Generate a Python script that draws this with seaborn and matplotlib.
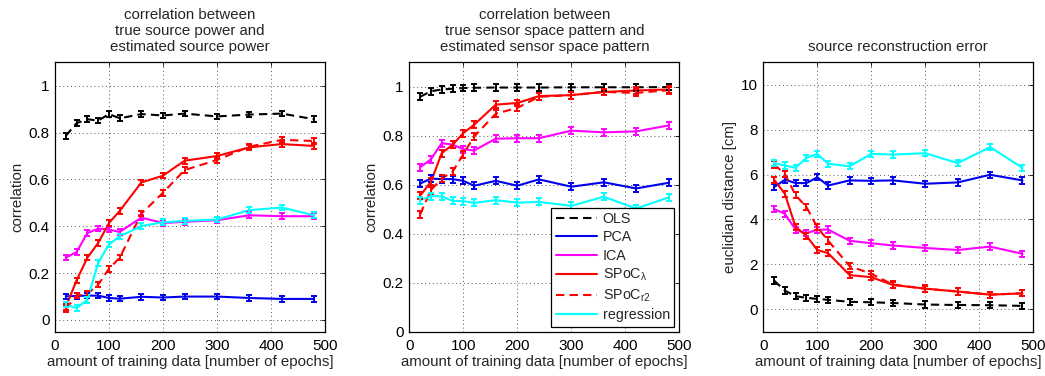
import numpy as np
import pandas as pd
import seaborn as sns
import matplotlib
matplotlib.use("Agg")
import matplotlib.pyplot as plt

# ---------------- data ----------------
epochs = [20, 40, 60, 80, 100, 120, 160, 200, 240, 300, 360, 420, 480]
methods = ["OLS", "PCA", "ICA", "SPoC$_\\lambda$", "SPoC$_{r2}$", "regression"]

# panel 1: correlation between true and estimated source power
p1_ols = [0.786, 0.84, 0.857, 0.851, 0.879, 0.861, 0.879, 0.873, 0.881, 0.869, 0.877, 0.881, 0.857]
p1_pca = [0.101, 0.103, 0.104, 0.104, 0.094, 0.091, 0.099, 0.096, 0.100, 0.100, 0.094, 0.090, 0.090]
p1_ica = [0.266, 0.29, 0.371, 0.39, 0.386, 0.376, 0.437, 0.414, 0.419, 0.426, 0.447, 0.443, 0.443]
p1_spoc_l = [0.055, 0.169, 0.266, 0.329, 0.414, 0.466, 0.587, 0.616, 0.68, 0.70, 0.737, 0.751, 0.743]
p1_spoc_r2 = [0.047, 0.104, 0.111, 0.151, 0.219, 0.266, 0.454, 0.543, 0.64, 0.683, 0.74, 0.769, 0.764]
p1_regr = [0.066, 0.051, 0.086, 0.244, 0.323, 0.357, 0.401, 0.417, 0.423, 0.429, 0.469, 0.48, 0.447]

# panel 2: correlation between true and estimated sensor space pattern
p2_ols = [0.959, 0.982, 0.989, 0.992, 0.995, 0.996, 0.997, 0.997, 0.997, 0.998, 0.998, 0.998, 0.999]
p2_pca = [0.605, 0.625, 0.623, 0.623, 0.616, 0.596, 0.616, 0.596, 0.622, 0.592, 0.61, 0.585, 0.608]
p2_ica = [0.671, 0.704, 0.77, 0.764, 0.745, 0.74, 0.788, 0.79, 0.79, 0.821, 0.814, 0.818, 0.842]
p2_spoc_l = [0.555, 0.612, 0.729, 0.763, 0.811, 0.845, 0.927, 0.934, 0.962, 0.966, 0.979, 0.985, 0.989]
p2_spoc_r2 = [0.479, 0.578, 0.626, 0.653, 0.725, 0.797, 0.89, 0.914, 0.959, 0.966, 0.979, 0.975, 0.986]
p2_regr = [0.537, 0.553, 0.553, 0.534, 0.533, 0.526, 0.537, 0.527, 0.53, 0.514, 0.551, 0.503, 0.548]

# panel 3: source reconstruction error [cm]
p3_ols = [1.28, 0.83, 0.58, 0.51, 0.46, 0.42, 0.33, 0.31, 0.28, 0.21, 0.19, 0.18, 0.15]
p3_pca = [5.44, 5.77, 5.62, 5.62, 5.88, 5.51, 5.74, 5.72, 5.74, 5.59, 5.65, 5.99, 5.74]
p3_ica = [4.47, 4.25, 3.54, 3.39, 3.54, 3.55, 3.05, 2.94, 2.84, 2.73, 2.64, 2.79, 2.47]
p3_spoc_l = [5.77, 5.14, 3.66, 3.27, 2.64, 2.50, 1.52, 1.43, 1.08, 0.92, 0.79, 0.65, 0.71]
p3_spoc_r2 = [6.45, 6.03, 5.08, 4.55, 3.66, 3.06, 1.92, 1.58, 1.10, 0.91, 0.79, 0.65, 0.71]
p3_regr = [6.51, 6.40, 6.30, 6.75, 6.92, 6.48, 6.37, 6.92, 6.89, 6.95, 6.51, 7.22, 6.30]

# approximate half-width of the error bars per panel
err_p1 = 0.012
err_p2 = 0.014
err_p3 = 0.14

titles = ["correlation between\ntrue source power and\nestimated source power",
          "correlation between\ntrue sensor space pattern and\nestimated sensor space pattern",
          "source reconstruction error"]
ylabels = ["correlation", "correlation", "euclidian distance [cm]"]
xlabel = "amount of training data [number of epochs]"

# ---------------- style ----------------
sns.set_style("white")
plt.rcParams.update({
    "font.family": ["Liberation Sans", "DejaVu Sans"],
    "font.size": 10.5,
    "xtick.direction": "in", "ytick.direction": "in",
    "xtick.top": True, "ytick.right": True,
    "xtick.major.size": 3, "ytick.major.size": 3,
    "xtick.major.width": 0.6, "ytick.major.width": 0.6,
    "xtick.major.pad": 5, "ytick.major.pad": 4,
    "axes.edgecolor": "black", "axes.linewidth": 0.9,
    "xtick.color": "black", "ytick.color": "black",
    "xtick.labelsize": 11, "ytick.labelsize": 11,
    "mathtext.fontset": "custom", "mathtext.rm": "Liberation Sans",
    "mathtext.it": "Liberation Sans", "mathtext.default": "regular",
})

palette = {"OLS": "#000000", "PCA": "#0000ee", "ICA": "#ff00ff",
           "SPoC$_\\lambda$": "#ff0000", "SPoC$_{r2}$": "#ff0000", "regression": "#00ffff"}
dashes = {"OLS": (4, 2.5), "PCA": "", "ICA": "", "SPoC$_\\lambda$": "",
          "SPoC$_{r2}$": (4, 2.5), "regression": ""}

panels = [
    ([p1_ols, p1_pca, p1_ica, p1_spoc_l, p1_spoc_r2, p1_regr], err_p1, (-0.05, 1.1), [0, 0.2, 0.4, 0.6, 0.8, 1], ["0", "0.2", "0.4", "0.6", "0.8", "1"]),
    ([p2_ols, p2_pca, p2_ica, p2_spoc_l, p2_spoc_r2, p2_regr], err_p2, (0.0, 1.1), [0, 0.2, 0.4, 0.6, 0.8, 1], ["0", "0.2", "0.4", "0.6", "0.8", "1"]),
    ([p3_ols, p3_pca, p3_ica, p3_spoc_l, p3_spoc_r2, p3_regr], err_p3, (-1, 11), [0, 2, 4, 6, 8, 10], ["0", "2", "4", "6", "8", "10"]),
]

fig = plt.figure(figsize=(10.45, 3.76), dpi=100)
lefts = [0.0526, 0.3917, 0.7304]
W, H, B = 0.2584, 0.7165, 0.1178

for i, (series, err, ylim, yticks, ytl) in enumerate(panels):
    ax = fig.add_axes([lefts[i], B, W, H])
    rows = []
    for m, vals in zip(methods, series):
        for x, v in zip(epochs, vals):
            rows.append({"epochs": x, "value": v, "method": m})
    df = pd.DataFrame(rows)
    sns.lineplot(data=df, x="epochs", y="value", hue="method", style="method",
                 hue_order=methods, style_order=methods, palette=palette,
                 dashes=dashes, linewidth=1.5, legend=(i == 1), ax=ax, zorder=3)
    for m, vals in zip(methods, series):
        ax.errorbar(epochs, vals, yerr=err, fmt="none", ecolor=palette[m],
                    elinewidth=1.4, capsize=2.5, capthick=1.4, zorder=3)
    ax.set_xlim(0, 500)
    ax.set_ylim(*ylim)
    ax.set_xticks([0, 100, 200, 300, 400, 500])
    ax.set_yticks(yticks)
    ax.set_yticklabels(ytl)
    ax.grid(True, linestyle=(0, (1, 3)), color="#555555", linewidth=0.7)
    ax.set_axisbelow(True)
    ax.set_title(titles[i], fontsize=10.8, linespacing=1.2, pad=8)
    ax.set_xlabel(xlabel, fontsize=10.8, labelpad=2)
    ax.set_ylabel(ylabels[i], fontsize=10.8, labelpad=3)
    for s in ax.spines.values():
        s.set_visible(True)
        s.set_color("black")
    if i == 1:
        h, l = ax.get_legend_handles_labels()
        leg = ax.legend(h, l, loc="lower right", fontsize=10.3, frameon=True,
                        fancybox=False, edgecolor="black", framealpha=1,
                        borderaxespad=0.35, handlelength=2.9, labelspacing=0.3,
                        handletextpad=0.4, borderpad=0.3)
        leg.get_frame().set_linewidth(0.9)

fig.savefig("out.png", dpi=100)
